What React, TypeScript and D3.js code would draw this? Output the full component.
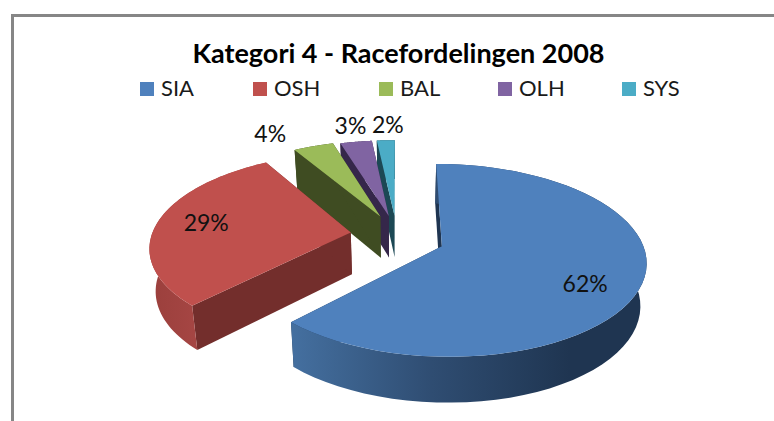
import * as d3 from "d3";

const title = "Kategori 4 - Racefordelingen 2008";
const categories = ["SIA", "OSH", "BAL", "OLH", "SYS"];
const shares = [62.2, 29.3, 3.8, 3.0, 1.7];

const topColors = ["#4f81bd", "#c0504d", "#9bbb59", "#8064a2", "#4bacc6"];
const wallColors = ["#1f3551", "#732e2c", "#3f4c22", "#35274a", "#1c4854"];
const rimStops = [
  ["#446f9f", "#2f4d72", "#1f3551"],
  ["#9c403d", "#a94846", "#b04a47"],
  ["#3f4c22", "#3f4c22", "#3f4c22"],
  ["#35274a", "#35274a", "#35274a"],
  ["#1c4854", "#1c4854", "#1c4854"],
];

const legendX = [140, 253, 379, 498, 622];
const labelRadius = [0.78, 0.72, 1.3, 1.27, 1.27];
const labelShift = [[-11, 8], [-5, -3], [-26, 5], [2, 0], [4, 1]];
const sliceShift = [[0, 0], [1, -3], [2, -2], [1, -1], [0, -1]];

const W = 774;
const H = 421;
const cx = 397;
const cy = 238;
const explode = 0.24;
const persp = 0.143;
const top = { rx: 199, ry: 92, y: cy };
const bottom = { rx: 194, ry: 95, y: cy + 42 };

// flat pie coords -> screen, with a little perspective towards the viewer
const project = (u: number, v: number, plane: typeof top, i: number) => {
  const s = 1 / (1 - persp * v);
  return [
    cx + plane.rx * u * s + sliceShift[i][0],
    plane.y + plane.ry * v * s + sliceShift[i][1],
  ];
};

const pie = d3
  .pie<number>()
  .sort(null)
  .startAngle(0)
  .endAngle(2 * Math.PI);

const slices = pie(shares).map((d, i) => {
  const mid = (d.startAngle + d.endAngle) / 2;
  const ox = explode * Math.sin(mid);
  const oy = -explode * Math.cos(mid);
  const angles = d3
    .range(0, 61)
    .map((k) => d.startAngle + ((d.endAngle - d.startAngle) * k) / 60);
  const rim = (plane: typeof top) =>
    angles.map((a) => project(ox + Math.sin(a), oy - Math.cos(a), plane, i));
  const apex = (plane: typeof top) => project(ox, oy, plane, i);
  const labelAt = project(
    ox + labelRadius[i] * Math.sin(mid),
    oy - labelRadius[i] * Math.cos(mid),
    top,
    i,
  );
  return { i, rim, apex, labelAt, rimTop: rim(top), rimBottom: rim(bottom) };
});

const line = d3.line();
const closed = (pts: number[][]) => line(pts as [number, number][]) + "Z";

const font = "Lato, Carlito, 'Open Sans', sans-serif";

export default function App() {
  // painted back to front
  const order = [4, 3, 2, 1, 0];
  return (
    <svg
      width={W}
      height={H}
      viewBox={`0 0 ${W} ${H}`}
      style={{ position: "absolute", left: 0, top: 0, background: "#fff" }}
    >
      <defs>
        {slices.map((s) => {
          const xs = s.rimBottom.map((p) => p[0]);
          return (
            <linearGradient
              key={s.i}
              id={`rim${s.i}`}
              gradientUnits="userSpaceOnUse"
              x1={d3.min(xs)}
              x2={s.i === 0 ? 570 : d3.max(xs)}
              y1={0}
              y2={0}
            >
              {rimStops[s.i].map((c, k) => (
                <stop key={k} offset={k / 2} stopColor={c} />
              ))}
            </linearGradient>
          );
        })}
      </defs>

      <rect x={11} y={14} width={W - 11} height={3} fill="#868686" />
      <rect x={11} y={14} width={3} height={H - 14} fill="#868686" />

      <text
        x={398.5}
        y={63}
        textAnchor="middle"
        fontFamily={font}
        fontWeight={700}
        fontSize={27}
        fill="#000"
      >
        {title}
      </text>

      {categories.map((c, i) => (
        <g key={c}>
          <rect x={legendX[i]} y={82} width={14} height={14} fill={topColors[i]} />
          <text
            x={legendX[i] + 21}
            y={96}
            fontFamily={font}
            fontSize={22}
            fill="#1a1a1a"
          >
            {c}
          </text>
        </g>
      ))}

      {order.map((k) => {
        const s = slices[k];
        const a0 = s.apex(top);
        const a1 = s.apex(bottom);
        const first = s.rimTop[0];
        const last = s.rimTop[s.rimTop.length - 1];
        const firstB = s.rimBottom[0];
        const lastB = s.rimBottom[s.rimBottom.length - 1];
        return (
          <g key={k}>
            <path d={closed([a0, first, firstB, a1])} fill={wallColors[k]} />
            <path d={closed([a0, last, lastB, a1])} fill={wallColors[k]} />
            <path
              d={closed([...s.rimTop, ...[...s.rimBottom].reverse()])}
              fill={`url(#rim${k})`}
            />
            <path d={closed([a0, ...s.rimTop])} fill={topColors[k]} />
          </g>
        );
      })}

      {slices.map((s) => (
        <text
          key={s.i}
          x={s.labelAt[0] + labelShift[s.i][0]}
          y={s.labelAt[1] + labelShift[s.i][1]}
          textAnchor="middle"
          dominantBaseline="central"
          fontFamily={font}
          fontSize={23}
          fill="#111"
        >
          {Math.round(shares[s.i])}%
        </text>
      ))}
    </svg>
  );
}
